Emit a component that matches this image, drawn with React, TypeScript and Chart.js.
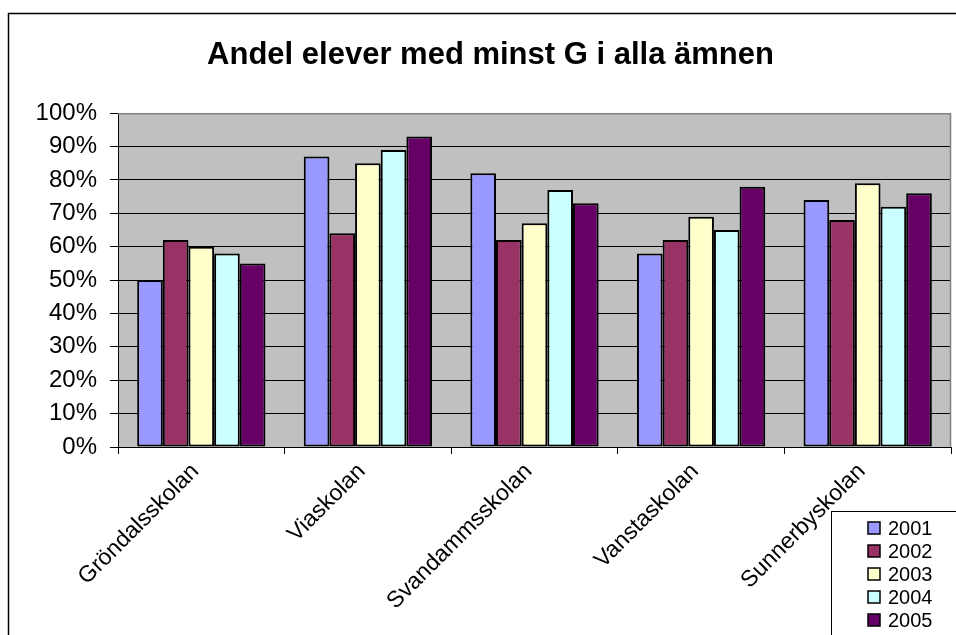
import React, { useEffect, useRef } from "react";
import { Chart, registerables } from "chart.js";

Chart.register(...registerables);

const categories = ["Gröndalsskolan", "Viaskolan", "Svandammsskolan", "Vanstaskolan", "Sunnerbyskolan"];
const years = ["2001", "2002", "2003", "2004", "2005"];
const values2001 = [50, 87, 82, 58, 74];
const values2002 = [62, 64, 62, 62, 68];
const values2003 = [60, 85, 67, 69, 79];
const values2004 = [58, 89, 77, 65, 72];
const values2005 = [55, 93, 73, 78, 76];
const seriesValues = [values2001, values2002, values2003, values2004, values2005];
const seriesColors = ["#9999FF", "#993366", "#FFFFCC", "#CCFFFF", "#660066"];
const yTickValues = [0, 10, 20, 30, 40, 50, 60, 70, 80, 90, 100];
const titleText = "Andel elever med minst G i alla ämnen";

const FONT = "'Liberation Sans', Arial, sans-serif";

const decorPlugin = {
  id: "decor",
  beforeDraw(chart: any) {
    const { ctx, chartArea } = chart;
    ctx.save();
    ctx.fillStyle = "#ffffff";
    ctx.fillRect(0, 0, chart.width, chart.height);
    // outer frame
    ctx.strokeStyle = "#000000";
    ctx.lineWidth = 1.5;
    ctx.strokeRect(8.5, 13.5, 2000, 2000);
    // plot background
    ctx.fillStyle = "#C0C0C0";
    ctx.fillRect(chartArea.left, chartArea.top, chartArea.right - chartArea.left, chartArea.bottom - chartArea.top);
    ctx.restore();
  },
  afterDatasetsDraw(chart: any) {
    const { ctx, chartArea } = chart;
    ctx.save();
    ctx.strokeStyle = "#808080";
    ctx.lineWidth = 1.5;
    ctx.beginPath();
    ctx.moveTo(chartArea.left, chartArea.top + 0.5);
    ctx.lineTo(chartArea.right - 0.5, chartArea.top + 0.5);
    ctx.lineTo(chartArea.right - 0.5, chartArea.bottom);
    ctx.stroke();
    ctx.restore();
  },
  afterDraw(chart: any) {
    const { ctx } = chart;
    ctx.save();
    // legend box
    const lx = 831.5;
    const ly = 511.5;
    ctx.fillStyle = "#ffffff";
    ctx.fillRect(lx, ly, 200, 200);
    ctx.strokeStyle = "#000000";
    ctx.lineWidth = 1;
    ctx.strokeRect(lx, ly, 200, 200);
    ctx.font = `20px ${FONT}`;
    ctx.textBaseline = "middle";
    ctx.textAlign = "left";
    years.forEach((y, i) => {
      const cy = 528 + i * 23;
      ctx.fillStyle = seriesColors[i];
      ctx.fillRect(868, cy - 6, 12, 12);
      ctx.strokeStyle = "#000000";
      ctx.lineWidth = 1.5;
      ctx.strokeRect(868, cy - 6, 12, 12);
      ctx.fillStyle = "#000000";
      ctx.fillText(y, 888, cy + 1);
    });
    ctx.restore();
  },
};

export default function App() {
  const ref = useRef<HTMLCanvasElement | null>(null);
  useEffect(() => {
    if (!ref.current) return;
    const chart = new Chart(ref.current, {
      type: "bar",
      data: {
        labels: categories,
        datasets: years.map((y, i) => ({
          label: y,
          data: seriesValues[i],
          backgroundColor: seriesColors[i],
          borderColor: "#000000",
          borderWidth: 2,
          borderSkipped: false,
          categoryPercentage: 0.77,
          barPercentage: 1,
        })),
      },
      options: {
        responsive: false,
        animation: false,
        layout: { padding: { left: 30, right: 5, top: 0, bottom: 0 } },
        plugins: {
          legend: { display: false },
          tooltip: { enabled: false },
          title: {
            display: true,
            text: titleText,
            color: "#000000",
            font: { family: FONT, size: 31, weight: "bold" },
            padding: { top: 37, bottom: 39 },
          },
        },
        scales: {
          x: {
            grid: { display: true, drawOnChartArea: false, drawTicks: true, tickLength: 7, color: "#000000", offset: true },
            border: { display: true, color: "#000000", width: 1 },
            ticks: {
              color: "#000000",
              font: { family: FONT, size: 23 },
              minRotation: 45,
              maxRotation: 45,
              padding: 4,
              labelOffset: -6,
              autoSkip: false,
            },
            afterFit(scale: any) {
              scale.height = 188;
            },
          },
          y: {
            min: 0,
            max: 100,
            afterBuildTicks(scale: any) {
              scale.ticks = yTickValues.map((v) => ({ value: v }));
            },
            grid: { display: true, drawOnChartArea: true, drawTicks: true, tickLength: 8, color: "#000000" },
            border: { display: true, color: "#000000", width: 1 },
            ticks: {
              color: "#000000",
              font: { family: FONT, size: 24 },
              padding: 13,
              callback: (v: any) => `${v}%`,
            },
            afterFit(scale: any) {
              scale.width = 88;
            },
          },
        },
      },
      plugins: [decorPlugin],
    });
    return () => chart.destroy();
  }, []);
  return (
    <div style={{ position: "absolute", left: 0, top: 0, width: 956, height: 635 }}>
      <canvas ref={ref} width={956} height={635} style={{ display: "block" }} />
    </div>
  );
}
